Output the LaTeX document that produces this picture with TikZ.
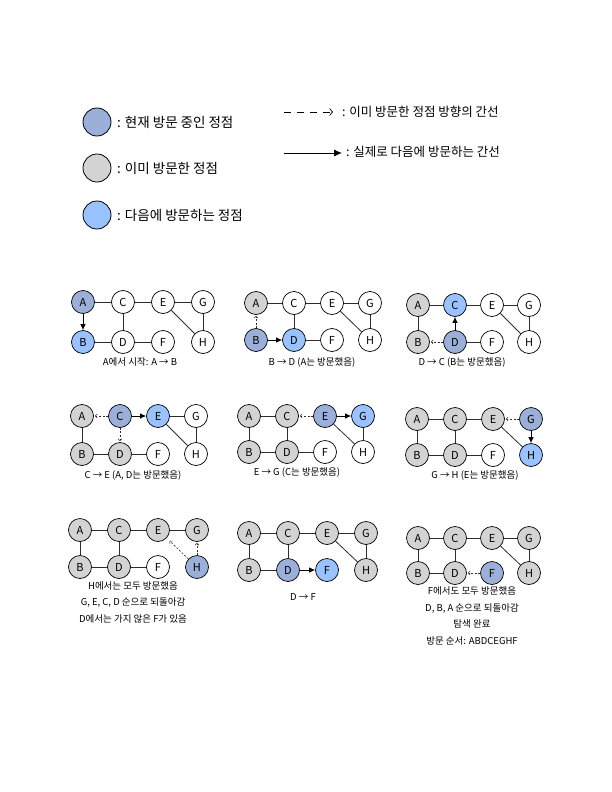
\documentclass[tikz,border=0pt]{standalone}
\usepackage{fontspec}
\setmainfont{Noto Sans CJK KR}
\usetikzlibrary{arrows.meta}
\definecolor{curc}{RGB}{155,175,217}
\definecolor{visc}{RGB}{211,211,211}
\definecolor{nxtc}{RGB}{153,194,255}
\definecolor{edgec}{RGB}{45,45,45}
\tikzset{
  v/.style={circle, draw=black, line width=0.7pt, minimum size=23pt, inner sep=0pt, font=\fontsize{11}{12}\selectfont, fill=white},
  cur/.style={fill=curc}, vis/.style={fill=visc}, nxt/.style={fill=nxtc}, wht/.style={fill=white},
  edge/.style={draw=edgec, line width=0.8pt},
  go/.style={-{Latex[length=6pt,width=5.5pt]}, line width=0.8pt, draw=black},
  back/.style={-{Straight Barb[length=2pt,width=4pt]}, dash pattern=on 2pt off 1.6pt, line width=0.6pt, draw=edgec, shorten >=1pt},
  captxt/.style={font=\fontsize{9.5}{16.5}\selectfont, align=center, inner sep=0pt},
  legc/.style={circle, draw=black, line width=0.8pt, minimum size=28pt, inner sep=0pt},
  legt/.style={anchor=west, font=\fontsize{13.5}{15}\selectfont, inner sep=0pt},
  legr/.style={anchor=west, font=\fontsize{12.5}{14}\selectfont, inner sep=0pt}
}
\newcommand{\gnodes}[8]{%
  \node[v,#1] (A) at (0,0) {A};
  \node[v,#2] (B) at (0,\gdy) {B};
  \node[v,#3] (C) at (\gdx,0) {C};
  \node[v,#4] (D) at (\gdx,\gdy) {D};
  \node[v,#5] (E) at (2*\gdx,0) {E};
  \node[v,#6] (F) at (2*\gdx,\gdy) {F};
  \node[v,#7] (G) at (3*\gdx,0) {G};
  \node[v,#8] (H) at (3*\gdx,\gdy) {H};
}
\begin{document}
\begin{tikzpicture}[x=1pt,y=-1pt]
\useasboundingbox (0,0) rectangle (612,792);

% legend
\node[legc, fill=curc] (L1) at (97,122) {};
\node[legt] (L1t) at (117,122) {: 현재 방문 중인 정점};
\node[legc, fill=visc] (L2) at (97,168) {};
\node[legt] (L2t) at (117,168) {: 이미 방문한 정점};
\node[legc, fill=nxtc] (L3) at (97,215) {};
\node[legt] (L3t) at (117,215) {: 다음에 방문하는 정점};

\coordinate (d1s) at (284,112);
\coordinate (d1e) at (333,112);
\draw[-{Straight Barb[length=3pt,width=7pt]}, dash pattern=on 7pt off 6pt, line width=0.7pt] (d1s) -- (d1e);
\node[legr] (R1t) at (342,112) {: 이미 방문한 정점 방향의 간선};
\coordinate (d2s) at (284,153);
\coordinate (d2e) at (342,153);
\draw[-{Latex[length=8pt,width=7pt]}, line width=0.9pt] (d2s) -- (d2e);
\node[legr] (R2t) at (346,152) {: 실제로 다음에 방문하는 간선};

% panel 1
\def\gdx{40}\def\gdy{40}
\begin{scope}[shift={(83,302)}, name prefix=p1]
\gnodes{cur}{nxt}{wht}{wht}{wht}{wht}{wht}{wht}
\foreach \u/\v in {A/C,B/D,C/D,C/E,D/F,E/G,E/H,G/H} \draw[edge] (\u) -- (\v);
\draw[go] (A) -- (B);
\end{scope}
\node[captxt] (c1) at (140,362) {A에서 시작: A → B};

% panel 2
\def\gdx{38}\def\gdy{37}
\begin{scope}[shift={(256,303)}, name prefix=p2]
\gnodes{vis}{cur}{wht}{nxt}{wht}{wht}{wht}{wht}
\foreach \u/\v in {A/C,C/D,C/E,D/F,E/G,E/H,G/H} \draw[edge] (\u) -- (\v);
\draw[back] (B) -- (A);
\draw[go] (B) -- (D);
\end{scope}
\node[captxt] (c2) at (312,362) {B → D (A는 방문했음)};

% panel 3
\def\gdx{37}\def\gdy{37}
\begin{scope}[shift={(418,305)}, name prefix=p3]
\gnodes{vis}{vis}{nxt}{cur}{wht}{wht}{wht}{wht}
\foreach \u/\v in {A/B,A/C,C/E,D/F,E/G,E/H,G/H} \draw[edge] (\u) -- (\v);
\draw[back] (D) -- (B);
\draw[go] (D) -- (C);
\end{scope}
\node[captxt] (c3) at (462,362) {D → C (B는 방문했음)};

% panel 4
\def\gdx{38}\def\gdy{38}
\begin{scope}[shift={(82,416)}, name prefix=p4]
\gnodes{vis}{vis}{cur}{vis}{nxt}{wht}{wht}{wht}
\foreach \u/\v in {A/B,B/D,D/F,E/G,E/H,G/H} \draw[edge] (\u) -- (\v);
\draw[back] (C) -- (A);
\draw[back] (C) -- (D);
\draw[go] (C) -- (E);
\end{scope}
\node[captxt] (c4) at (133,475) {C → E (A, D는 방문했음)};

% panel 5
\def\gdx{38}\def\gdy{36}
\begin{scope}[shift={(249,416)}, name prefix=p5]
\gnodes{vis}{vis}{vis}{vis}{cur}{wht}{nxt}{wht}
\foreach \u/\v in {A/B,A/C,B/D,C/D,D/F,E/H,G/H} \draw[edge] (\u) -- (\v);
\draw[back] (E) -- (C);
\draw[go] (E) -- (G);
\end{scope}
\node[captxt] (c5) at (297,472) {E → G (C는 방문했음)};

% panel 6
\def\gdx{38}\def\gdy{36}
\begin{scope}[shift={(417,419)}, name prefix=p6]
\gnodes{vis}{vis}{vis}{vis}{vis}{wht}{cur}{nxt}
\foreach \u/\v in {A/B,A/C,B/D,C/D,C/E,D/F,E/H} \draw[edge] (\u) -- (\v);
\draw[back] (G) -- (E);
\draw[go] (G) -- (H);
\end{scope}
\node[captxt] (c6) at (475,475) {G → H (E는 방문했음)};

% panel 7
\def\gdx{39}\def\gdy{37}
\begin{scope}[shift={(80,530)}, name prefix=p7]
\gnodes{vis}{vis}{vis}{vis}{vis}{wht}{vis}{cur}
\foreach \u/\v in {A/B,A/C,B/D,C/D,C/E,D/F,E/G} \draw[edge] (\u) -- (\v);
\draw[back, shorten >=4pt] (H) -- (E);
\draw[back] (H) -- (G);
\end{scope}
\node[captxt] (c7) at (133,602) {H에서는 모두 방문했음\\G, E, C, D 순으로 되돌아감\\D에서는 가지 않은 F가 있음};

% panel 8
\def\gdx{39}\def\gdy{37}
\begin{scope}[shift={(249,533)}, name prefix=p8]
\gnodes{vis}{vis}{vis}{cur}{vis}{nxt}{vis}{vis}
\foreach \u/\v in {A/B,A/C,B/D,C/D,C/E,E/G,E/H,G/H} \draw[edge] (\u) -- (\v);
\draw[go] (D) -- (F);
\end{scope}
\node[captxt] (c8) at (303,597) {D → F};

% panel 9
\def\gdx{37}\def\gdy{35}
\begin{scope}[shift={(418,538)}, name prefix=p9]
\gnodes{vis}{vis}{vis}{vis}{vis}{cur}{vis}{vis}
\foreach \u/\v in {A/B,A/C,B/D,C/D,C/E,E/G,E/H,G/H} \draw[edge] (\u) -- (\v);
\draw[back] (F) -- (D);
\end{scope}
\node[captxt] (c9) at (472,616) {F에서도 모두 방문했음\\D, B, A 순으로 되돌아감\\탐색 완료\\방문 순서: ABDCEGHF};
\end{tikzpicture}
\end{document}
